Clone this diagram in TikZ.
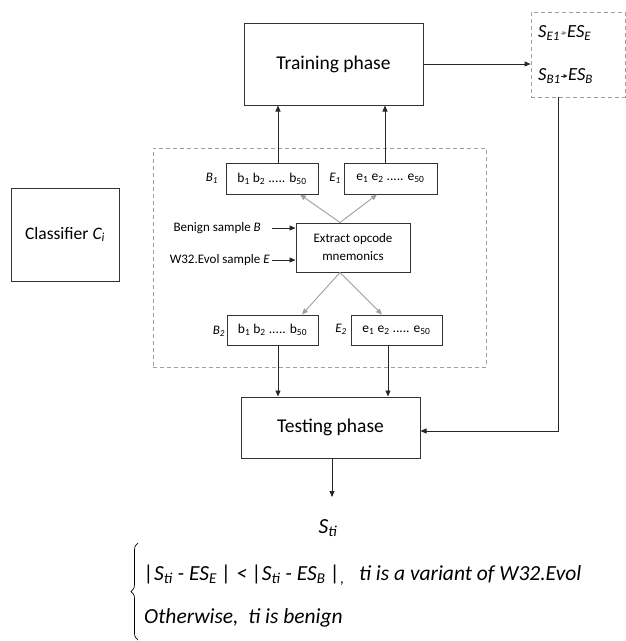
\documentclass[tikz,border=0pt]{standalone}
\usepackage{fontspec}
\setmainfont{Carlito}
\usetikzlibrary{arrows.meta,decorations.pathreplacing}
\begin{document}
\begin{tikzpicture}[x=1pt,y=-1pt,
  box/.style={draw=black!80, line width=1pt, inner sep=0pt, align=center},
  dbox/.style={draw=black!38, dash pattern=on 4pt off 3pt, line width=0.9pt, inner sep=0pt},
  arr/.style={-{Triangle[length=6pt,width=5pt]}, line width=0.9pt, draw=black!85},
  garr/.style={-{Triangle[length=6pt,width=5pt]}, line width=0.9pt, draw=black!38},
  tinyarr/.style={-{Triangle[length=4pt,width=4pt]}, line width=0.8pt, shorten <=0.5pt, shorten >=0.5pt},
  bigf/.style={font=\fontsize{19.5}{23}\selectfont},
  clsf/.style={font=\fontsize{17.5}{21}\selectfont},
  smallf/.style={font=\fontsize{13}{16}\selectfont},
  boxf/.style={font=\fontsize{13.5}{16}\selectfont},
  rtxt/.style={font=\fontsize{18.5}{22}\selectfont\itshape, anchor=west, inner sep=0pt},
  form/.style={font=\fontsize{21.5}{26}\selectfont\itshape, anchor=west, inner sep=0pt},
]
\useasboundingbox (0,0) rectangle (626,641);

% main boxes
\node[box, bigf, minimum width=179pt, minimum height=82pt] (train) at (333.5,64) {Training phase};
\node[dbox, minimum width=94pt, minimum height=85pt] (res) at (578,54.5) {};
\node[dbox, minimum width=333pt, minimum height=219pt] (grp) at (319.5,257.5) {};
\node[box, boxf, minimum width=92pt, minimum height=31pt] (b1) at (272,178.5) {b\textsubscript{1} b\textsubscript{2} ..... b\textsubscript{50}};
\node[box, boxf, minimum width=93pt, minimum height=31pt] (e1) at (390.5,178.5) {e\textsubscript{1} e\textsubscript{2} ..... e\textsubscript{50}};
\node[box, smallf, minimum width=114pt, minimum height=49pt] (ext) at (353,247.5) {Extract opcode\\[2pt]mnemonics};
\node[box, boxf, minimum width=91pt, minimum height=30pt] (b2) at (272.5,330) {b\textsubscript{1} b\textsubscript{2} ..... b\textsubscript{50}};
\node[box, boxf, minimum width=91pt, minimum height=30pt] (e2) at (396.5,330) {e\textsubscript{1} e\textsubscript{2} ..... e\textsubscript{50}};
\node[box, bigf, minimum width=179pt, minimum height=61pt] (test) at (330.5,427.5) {Testing phase};
\node[box, clsf, minimum width=108pt, minimum height=93pt] (cls) at (65,234.5) {Classifier \textit{C\textsubscript{i}}};

% labels of the small boxes
\node[smallf, inner sep=0pt] (lb1) at (212,178) {\textit{B\textsubscript{1}}};
\node[smallf, inner sep=0pt] (le1) at (335,178) {\textit{E\textsubscript{1}}};
\node[smallf, inner sep=0pt] (lb2) at (219,331) {\textit{B\textsubscript{2}}};
\node[smallf, inner sep=0pt] (le2) at (341,329) {\textit{E\textsubscript{2}}};

% inputs
\node[smallf, anchor=east, inner sep=0pt] (inb) at (261,228) {Benign sample \textit{B}};
\node[smallf, anchor=east, inner sep=0pt] (ine) at (270,260) {W32.Evol sample \textit{E}};
\coordinate (in1) at (272,228);
\coordinate (in2) at (272,260);
\draw[arr] (in1) -- (in1 -| ext.west);
\draw[arr] (in2) -- (in2 -| ext.west);

% gray arrows
\draw[garr] ([xshift=-13pt]ext.north) -- ([xshift=28pt]b1.south);
\draw[garr] ([xshift=-13pt]ext.north) -- ([xshift=-13.5pt]e1.south);
\draw[garr] ([xshift=-13pt]ext.south) -- ([xshift=29.5pt]b2.north);
\draw[garr] ([xshift=-13pt]ext.south) -- ([xshift=-14.5pt]e2.north);

% to training / testing
\draw[arr] ([xshift=6pt]b1.north) -- ([xshift=6pt]b1.north |- train.south);
\draw[arr] ([xshift=-5.5pt]e1.north) -- ([xshift=-5.5pt]e1.north |- train.south);
\draw[arr] ([xshift=5.5pt]b2.south) -- ([xshift=5.5pt]b2.south |- test.north);
\draw[arr] ([xshift=-8.5pt]e2.south) -- ([xshift=-8.5pt]e2.south |- test.north);

% result box
\draw[arr] (train.east) -- (train.east -| res.west);
\node[rtxt] (se1) at (538,33) {S\textsubscript{E1}};
\node[rtxt] (ese) at (567,33) {ES\textsubscript{E}};
\node[rtxt] (sb1) at (538,76) {S\textsubscript{B1}};
\node[rtxt] (esb) at (568,76) {ES\textsubscript{B}};
\draw[tinyarr, draw=black!45] (se1) -- (ese);
\draw[tinyarr, draw=black!85] (sb1) -- (esb);

\coordinate (corner) at (558,431);
\draw[arr] (corner |- res.south) -- (corner) -- (corner -| test.east);

% output
\coordinate (sarr) at (332,497);
\draw[arr] (test.south -| sarr) -- (sarr);
\node[form, anchor=center] (sti) at (328,528) {S\textsubscript{ti}};

\node[form] (f1) at (144,575) {|S\textsubscript{ti} - ES\textsubscript{E} | \textless\ |S\textsubscript{ti} - ES\textsubscript{B} |\textsubscript{,}\ \ \ ti is a variant of W32.Evol};
\node[form] (f2) at (144,618) {Otherwise,\ \ ti is benign};
\draw[decorate, decoration={brace, amplitude=7pt}, line width=0.7pt] (138,640) -- (138,543);
\end{tikzpicture}
\end{document}
